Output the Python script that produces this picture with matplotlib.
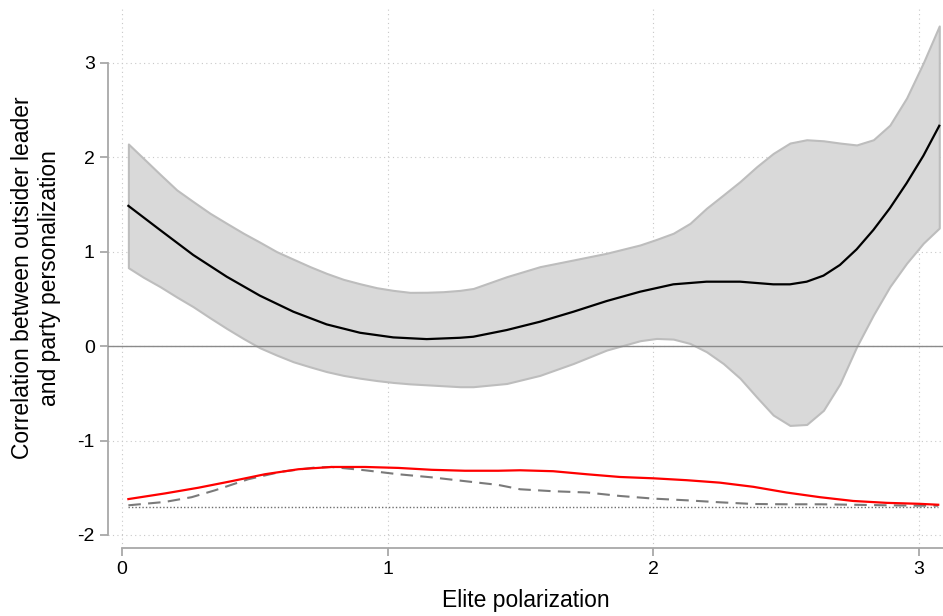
import matplotlib

matplotlib.use("Agg")
import matplotlib.pyplot as plt
import numpy as np

plt.rcParams["font.family"] = ["Liberation Sans", "DejaVu Sans"]
plt.rcParams["axes.unicode_minus"] = False

# marginal effect of outsider leader by elite polarization
x_eff = [0.024, 0.143, 0.268, 0.394, 0.519, 0.645, 0.770, 0.896, 1.021, 1.147, 1.272,
         1.322, 1.448, 1.573, 1.699, 1.824, 1.950, 2.075, 2.200, 2.326, 2.451, 2.514,
         2.577, 2.640, 2.702, 2.765, 2.828, 2.890, 2.953, 3.016, 3.076]
effect = [1.485, 1.23, 0.965, 0.735, 0.534, 0.364, 0.23, 0.141, 0.092, 0.074, 0.088,
          0.099, 0.17, 0.258, 0.364, 0.477, 0.576, 0.654, 0.682, 0.682, 0.654, 0.654,
          0.682, 0.746, 0.859, 1.025, 1.23, 1.46, 1.725, 2.015, 2.333]

x_ci = [0.024, 0.08, 0.143, 0.206, 0.268, 0.331, 0.394, 0.457, 0.519, 0.582, 0.645,
        0.708, 0.770, 0.833, 0.896, 0.959, 1.021, 1.084, 1.147, 1.209, 1.272, 1.322,
        1.448, 1.573, 1.699, 1.824, 1.950, 2.012, 2.075, 2.138, 2.200, 2.263, 2.326,
        2.389, 2.451, 2.514, 2.577, 2.640, 2.702, 2.765, 2.828, 2.890, 2.953, 3.016,
        3.076]
ci_upper = [2.14, 1.99, 1.82, 1.654, 1.53, 1.407, 1.30, 1.195, 1.10, 1.00, 0.92,
            0.841, 0.77, 0.707, 0.66, 0.618, 0.59, 0.569, 0.57, 0.576, 0.59, 0.61,
            0.735, 0.841, 0.912, 0.983, 1.071, 1.13, 1.195, 1.30, 1.46, 1.60, 1.742,
            1.90, 2.04, 2.15, 2.185, 2.174, 2.15, 2.13, 2.185, 2.34, 2.627, 3.00,
            3.39]
ci_lower = [0.83, 0.73, 0.63, 0.52, 0.417, 0.30, 0.187, 0.08, -0.018, -0.095, -0.166,
            -0.22, -0.27, -0.31, -0.34, -0.365, -0.385, -0.40, -0.41, -0.42, -0.43, -0.43,
            -0.396, -0.31, -0.184, -0.042, 0.057, 0.081, 0.074, 0.028, -0.06, -0.184, -0.34,
            -0.54, -0.73, -0.84, -0.83, -0.68, -0.40, -0.007, 0.33, 0.63, 0.877, 1.09,
            1.25]

# density plots (rescaled) at the bottom
x_red = [0.024, 0.162, 0.287, 0.413, 0.538, 0.664, 0.789, 0.915, 1.04, 1.166, 1.29,
         1.416, 1.498, 1.623, 1.749, 1.874, 2.0, 2.125, 2.25, 2.376, 2.50, 2.627,
         2.752, 2.878, 3.0, 3.072]
dens_red = [-1.62, -1.56, -1.50, -1.43, -1.357, -1.304, -1.28, -1.28, -1.29, -1.31, -1.32,
            -1.32, -1.315, -1.325, -1.357, -1.386, -1.40, -1.42, -1.446, -1.49, -1.55, -1.60,
            -1.64, -1.66, -1.67, -1.68]
x_grey = [0.024, 0.162, 0.262, 0.35, 0.475, 0.60, 0.726, 0.789, 0.915, 1.04, 1.166,
          1.29, 1.416, 1.498, 1.623, 1.749, 1.874, 2.0, 2.125, 2.25, 2.376, 2.50,
          2.627, 2.752, 2.878, 3.0, 3.072]
dens_grey = [-1.686, -1.65, -1.60, -1.527, -1.41, -1.33, -1.286, -1.28, -1.315, -1.357, -1.39,
             -1.43, -1.47, -1.516, -1.537, -1.55, -1.587, -1.615, -1.633, -1.654, -1.672, -1.675,
             -1.675, -1.68, -1.686, -1.69, -1.69]
dens_base = -1.704

fig = plt.figure(figsize=(9.43, 6.16), dpi=100)
ax = fig.add_axes([108 / 943, 68 / 616, 835 / 943, 540 / 616])

ax.fill_between(x_ci, ci_lower, ci_upper, facecolor="#d9d9d9", edgecolor="#bdbdbd",
                linewidth=1.5, zorder=2)
ax.axhline(0, color="#8a8a8a", linewidth=1.0, zorder=3)
ax.plot(x_eff, effect, color="black", linewidth=1.6, zorder=4)

ax.plot([x_grey[0], x_grey[-1]], [dens_base, dens_base], color="#6e6e6e",
        linewidth=1.0, linestyle=(0, (1, 1.5)), zorder=3)
ax.plot(x_grey, dens_grey, color="#7a7a7a", linewidth=1.5, linestyle=(0, (6, 3.5)), zorder=4)
ax.plot(x_red, dens_red, color="#ff0000", linewidth=1.6, zorder=5)

ax.set_xlim(-0.0527, 3.09)
ax.set_ylim(-2.138, 3.58)
ax.set_xticks([0, 1, 2, 3])
ax.set_yticks([-2, -1, 0, 1, 2, 3])
ax.grid(True, color="#c8c8c8", linestyle=(0, (1, 3)), linewidth=0.8)
ax.set_axisbelow(True)

for side in ["top", "right"]:
    ax.spines[side].set_visible(False)
ax.spines["left"].set_bounds(-2, 3)
ax.spines["bottom"].set_bounds(0, 3.09)
for side in ["left", "bottom"]:
    ax.spines[side].set_color("#a8a8a8")
    ax.spines[side].set_linewidth(1.3)
ax.tick_params(colors="#a8a8a8", labelcolor="black", length=6, width=1.3, labelsize=14)

ax.set_xlabel("Elite polarization", fontsize=16.5, labelpad=8)
ax.set_ylabel("Correlation between outsider leader\nand party personalization",
              fontsize=16.5, labelpad=12)

fig.savefig("out.png", dpi=100)
